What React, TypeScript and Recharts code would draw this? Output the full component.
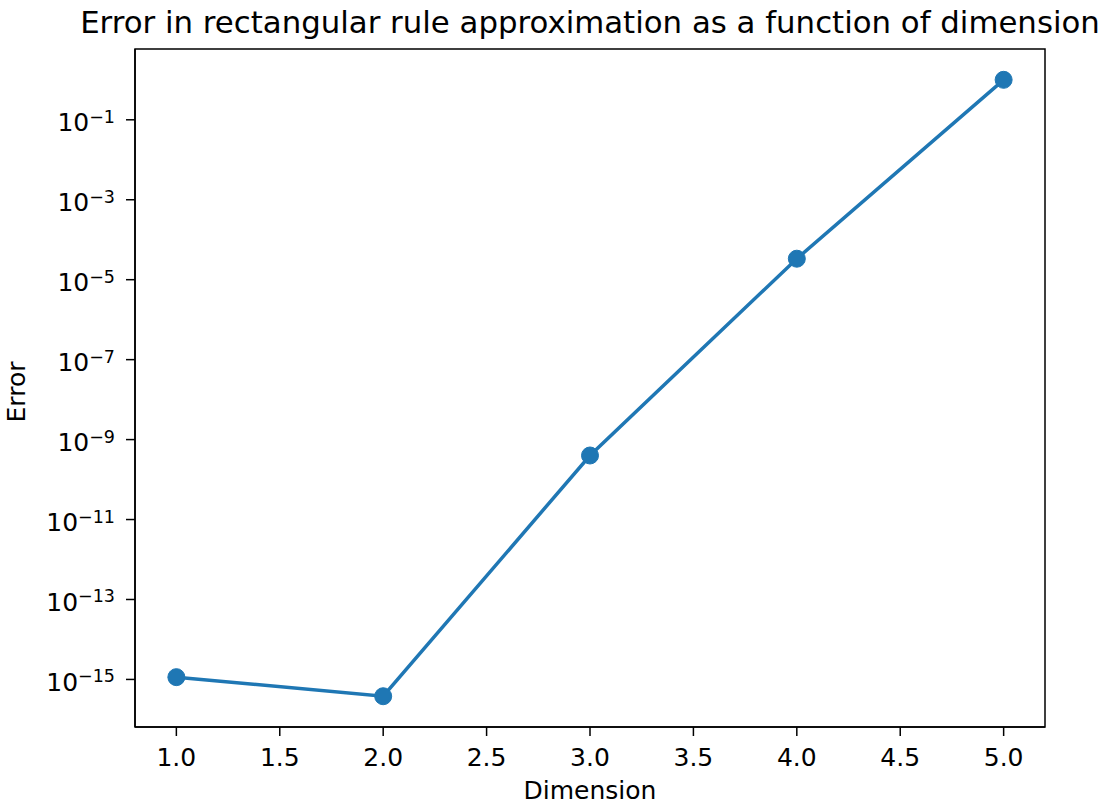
import { LineChart, Line, XAxis, YAxis, ReferenceArea } from "recharts";

const dimensions = [1, 2, 3, 4, 5];
const errors = [1.14e-15, 3.8e-16, 4.0e-10, 3.35e-5, 1.0];

const xTicks = [1.0, 1.5, 2.0, 2.5, 3.0, 3.5, 4.0, 4.5, 5.0];
const yExponents = [-15, -13, -11, -9, -7, -5, -3, -1];

const TITLE = "Error in rectangular rule approximation as a function of dimension";
const BLUE = "#1f77b4";
const FONT = "DejaVu Sans, sans-serif";

const X_DOMAIN: [number, number] = [0.8, 5.2];
const Y_DOMAIN: [number, number] = [Math.pow(10, -16.19), Math.pow(10, 0.771)];

const data = dimensions.map((d, i) => ({ dim: d, err: errors[i] }));
const yTicks = yExponents.map((e) => Math.pow(10, e));

function PowerTick({ x, y, payload }: { x?: number; y?: number; payload?: { value: number } }) {
  const exp = Math.round(Math.log10(payload?.value ?? 1));
  const sign = exp < 0 ? "\u2212" : "";
  return (
    <text x={x} y={y} textAnchor="end" fill="#000" fontSize={25} fontFamily={FONT}>
      <tspan dy={11.5}>10</tspan>
      <tspan dy={-8.5} fontSize={17.5}>
        {sign + Math.abs(exp)}
      </tspan>
    </text>
  );
}

function YLabel({ viewBox }: { viewBox?: { x: number; y: number; width: number; height: number } }) {
  if (!viewBox) return null;
  const cx = viewBox.x + 25;
  const cy = viewBox.y + viewBox.height / 2 + 4;
  return (
    <text
      x={cx}
      y={cy}
      transform={`rotate(-90 ${cx} ${cy})`}
      textAnchor="middle"
      fill="#000"
      fontSize={25}
      fontFamily={FONT}
    >
      Error
    </text>
  );
}

export default function App() {
  return (
    <div style={{ position: "absolute", left: 0, top: 0, width: 1102, height: 803, background: "#fff" }}>
      <LineChart width={1102} height={803} data={data} margin={{ top: 49, right: 57, left: 0, bottom: 0 }}>
        <XAxis
          dataKey="dim"
          type="number"
          domain={X_DOMAIN}
          allowDataOverflow
          ticks={xTicks}
          tickFormatter={(v: number) => v.toFixed(1)}
          interval={0}
          height={76}
          tickSize={9}
          tickMargin={12}
          stroke="#000"
          axisLine={{ stroke: "#000", strokeWidth: 1.5 }}
          tickLine={{ stroke: "#000", strokeWidth: 1.5 }}
          tick={{ fill: "#000", fontSize: 25, fontFamily: FONT }}
          label={{ value: "Dimension", position: "insideBottom", offset: 4, fill: "#000", fontSize: 25, fontFamily: FONT }}
        />
        <YAxis
          dataKey="err"
          scale="log"
          domain={Y_DOMAIN}
          allowDataOverflow
          ticks={yTicks}
          interval={0}
          width={135}
          tickSize={9}
          tickMargin={11}
          axisLine={{ stroke: "#000", strokeWidth: 1.5 }}
          tickLine={{ stroke: "#000", strokeWidth: 1.5 }}
          tick={<PowerTick />}
          label={{ content: <YLabel /> }}
        />
        <ReferenceArea
          x1={X_DOMAIN[0]}
          x2={X_DOMAIN[1]}
          y1={Y_DOMAIN[0]}
          y2={Y_DOMAIN[1]}
          ifOverflow="visible"
          fill="none"
          fillOpacity={0}
          stroke="#000"
          strokeWidth={1.5}
          label={{ value: TITLE, position: "top", offset: 16, fill: "#000", fontSize: 30.8, fontFamily: FONT }}
        />
        <Line
          dataKey="err"
          stroke={BLUE}
          strokeWidth={3.5}
          dot={{ r: 8.5, fill: BLUE, stroke: BLUE, strokeWidth: 1 }}
          activeDot={false}
          isAnimationActive={false}
        />
      </LineChart>
    </div>
  );
}
